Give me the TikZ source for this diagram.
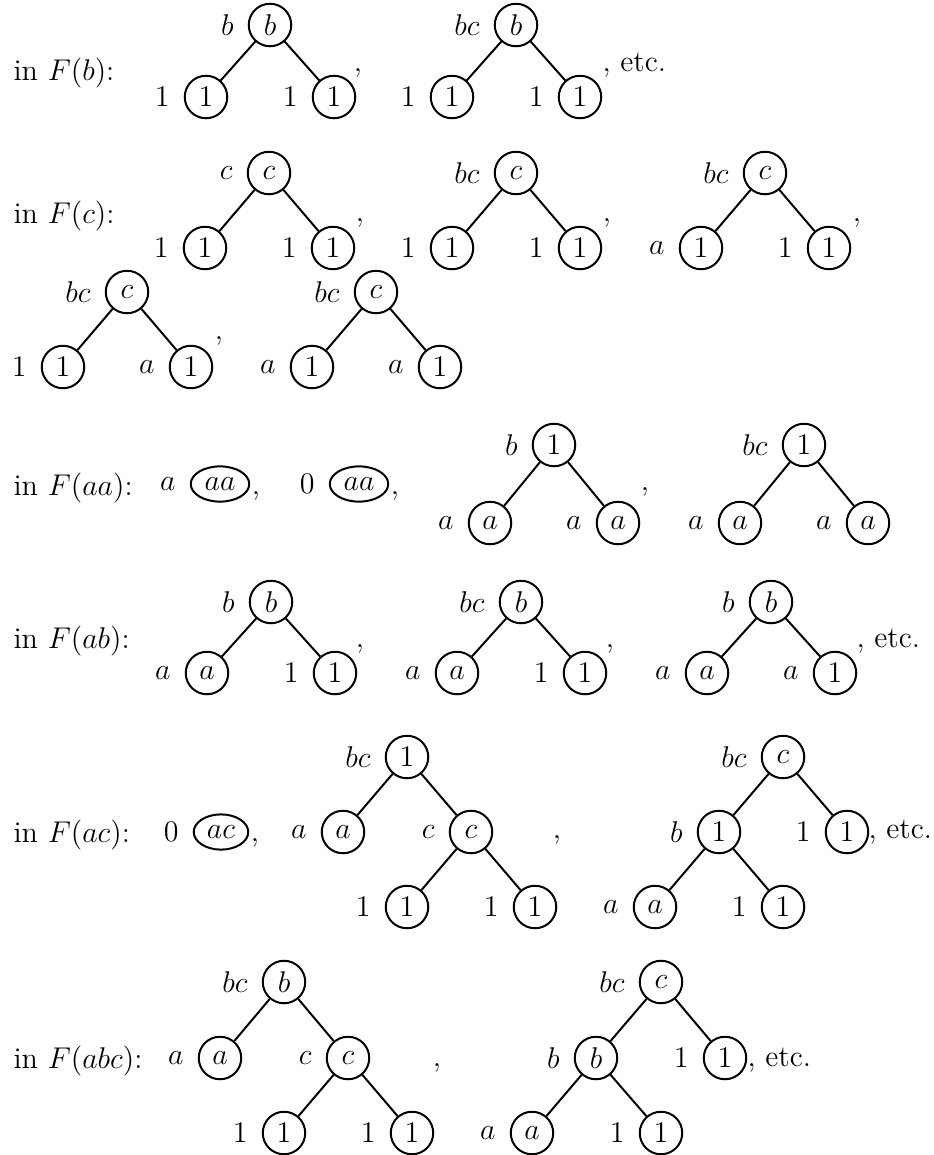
\documentclass[12pt,tikz,border=0pt]{standalone}
\usetikzlibrary{shapes.geometric}

\tikzset{
	vtx/.style={draw, circle, thick, minimum size=17pt, inner sep=2pt},
	oval/.style={draw, ellipse, thick, inner xsep=2.1pt, inner ysep=2.4pt},
	br/.style={thick},
	txt/.style={anchor=base west, inner sep=0pt},
	cma/.style={anchor=base, inner sep=0pt},
}

\begin{document}
\begin{tikzpicture}[x=0.4pt, y=-0.4pt, label distance=1.5pt]
	\useasboundingbox (0,0) rectangle (934,1155);

	% F(b)
	\node[txt] (hb) at (13,80) {in $F(b)$:};
	\begin{scope}[shift={(270,25)}]
		\node[vtx, label=left:$b$] (t11) at (0,0) {$b$};
		\node[vtx, label=left:$1$] (t11l) at (-64,72) {$1$};
		\node[vtx, label=left:$1$] (t11r) at (64,72) {$1$};
		\draw[br] (t11) -- (t11l) (t11) -- (t11r);
		\node[cma] (k11) at (88,46) {,};
	\end{scope}
	\begin{scope}[shift={(516,25)}]
		\node[vtx, label=left:$bc$] (t12) at (0,0) {$b$};
		\node[vtx, label=left:$1$] (t12l) at (-64,72) {$1$};
		\node[vtx, label=left:$1$] (t12r) at (64,72) {$1$};
		\draw[br] (t12) -- (t12l) (t12) -- (t12r);
		\node[txt] (k12) at (86,46) {, etc.};
	\end{scope}

	% F(c)
	\node[txt] (hc) at (13,223) {in $F(c)$:};
	\begin{scope}[shift={(269,173)}]
		\node[vtx, label=left:$c$] (t21) at (0,0) {$c$};
		\node[vtx, label=left:$1$] (t21l) at (-64,75) {$1$};
		\node[vtx, label=left:$1$] (t21r) at (64,75) {$1$};
		\draw[br] (t21) -- (t21l) (t21) -- (t21r);
		\node[cma] (k21) at (91,48) {,};
	\end{scope}
	\begin{scope}[shift={(516,173)}]
		\node[vtx, label=left:$bc$] (t22) at (0,0) {$c$};
		\node[vtx, label=left:$1$] (t22l) at (-64,75) {$1$};
		\node[vtx, label=left:$1$] (t22r) at (64,75) {$1$};
		\draw[br] (t22) -- (t22l) (t22) -- (t22r);
		\node[cma] (k22) at (91,48) {,};
	\end{scope}
	\begin{scope}[shift={(765,173)}]
		\node[vtx, label=left:$bc$] (t23) at (0,0) {$c$};
		\node[vtx, label=left:$a$] (t23l) at (-64,75) {$1$};
		\node[vtx, label=left:$1$] (t23r) at (64,75) {$1$};
		\draw[br] (t23) -- (t23l) (t23) -- (t23r);
		\node[cma] (k23) at (92,48) {,};
	\end{scope}
	\begin{scope}[shift={(127,292)}]
		\node[vtx, label=left:$bc$] (t24) at (0,0) {$c$};
		\node[vtx, label=left:$1$] (t24l) at (-64,75) {$1$};
		\node[vtx, label=left:$a$] (t24r) at (64,75) {$1$};
		\draw[br] (t24) -- (t24l) (t24) -- (t24r);
		\node[cma] (k24) at (92,47) {,};
	\end{scope}
	\begin{scope}[shift={(376,292)}]
		\node[vtx, label=left:$bc$] (t25) at (0,0) {$c$};
		\node[vtx, label=left:$a$] (t25l) at (-64,75) {$1$};
		\node[vtx, label=left:$a$] (t25r) at (64,75) {$1$};
		\draw[br] (t25) -- (t25l) (t25) -- (t25r);
	\end{scope}

	% F(aa)
	\node[txt] (haa) at (13,495) {in $F(aa)$:};
	\node[oval, label=left:$a$] (e41) at (220,484) {$aa$};
	\node[cma] (k41) at (256,494) {,};
	\node[oval, label=left:$0$] (e42) at (359,484) {$aa$};
	\node[cma] (k42) at (395,494) {,};
	\begin{scope}[shift={(554,445)}]
		\node[vtx, label=left:$b$] (t41) at (0,0) {$1$};
		\node[vtx, label=left:$a$] (t41l) at (-64,78) {$a$};
		\node[vtx, label=left:$a$] (t41r) at (64,78) {$a$};
		\draw[br] (t41) -- (t41l) (t41) -- (t41r);
		\node[cma] (k43) at (91,45) {,};
	\end{scope}
	\begin{scope}[shift={(804,445)}]
		\node[vtx, label=left:$bc$] (t42) at (0,0) {$1$};
		\node[vtx, label=left:$a$] (t42l) at (-64,78) {$a$};
		\node[vtx, label=left:$a$] (t42r) at (64,78) {$a$};
		\draw[br] (t42) -- (t42l) (t42) -- (t42r);
	\end{scope}

	% F(ab)
	\node[txt] (hab) at (13,648) {in $F(ab)$:};
	\begin{scope}[shift={(271,602)}]
		\node[vtx, label=left:$b$] (t51) at (0,0) {$b$};
		\node[vtx, label=left:$a$] (t51l) at (-64,71) {$a$};
		\node[vtx, label=left:$1$] (t51r) at (64,71) {$1$};
		\draw[br] (t51) -- (t51l) (t51) -- (t51r);
		\node[cma] (k51) at (89,45) {,};
	\end{scope}
	\begin{scope}[shift={(521,602)}]
		\node[vtx, label=left:$bc$] (t52) at (0,0) {$b$};
		\node[vtx, label=left:$a$] (t52l) at (-64,71) {$a$};
		\node[vtx, label=left:$1$] (t52r) at (64,71) {$1$};
		\draw[br] (t52) -- (t52l) (t52) -- (t52r);
		\node[cma] (k52) at (89,45) {,};
	\end{scope}
	\begin{scope}[shift={(771,602)}]
		\node[vtx, label=left:$b$] (t53) at (0,0) {$b$};
		\node[vtx, label=left:$a$] (t53l) at (-64,71) {$a$};
		\node[vtx, label=left:$a$] (t53r) at (64,71) {$1$};
		\draw[br] (t53) -- (t53l) (t53) -- (t53r);
		\node[txt] (k53) at (85,45) {, etc.};
	\end{scope}

	% F(ac)
	\node[txt] (hac) at (13,842) {in $F(ac)$:};
	\node[oval, label=left:$0$] (e61) at (221,832) {$ac$};
	\node[cma] (k61) at (255,841) {,};
	\begin{scope}[shift={(407,757)}]
		\node[vtx, label=left:$bc$] (t61) at (0,0) {$1$};
		\node[vtx, label=left:$a$] (t61l) at (-64,75) {$a$};
		\node[vtx, label=left:$c$] (t61r) at (64,75) {$c$};
		\node[vtx, label=left:$1$] (t61rl) at (0,150) {$1$};
		\node[vtx, label=left:$1$] (t61rr) at (128,150) {$1$};
		\draw[br] (t61) -- (t61l) (t61) -- (t61r);
		\draw[br] (t61r) -- (t61rl) (t61r) -- (t61rr);
		\node[cma] (k62) at (150,81) {,};
	\end{scope}
	\begin{scope}[shift={(783,757)}]
		\node[vtx, label=left:$bc$] (t62) at (0,0) {$c$};
		\node[vtx, label=left:$b$] (t62l) at (-64,75) {$1$};
		\node[vtx, label=left:$1$] (t62r) at (64,75) {$1$};
		\node[vtx, label=left:$a$] (t62ll) at (-128,150) {$a$};
		\node[vtx, label=left:$1$] (t62lr) at (0,150) {$1$};
		\draw[br] (t62) -- (t62l) (t62) -- (t62r);
		\draw[br] (t62l) -- (t62ll) (t62l) -- (t62lr);
		\node[txt] (k63) at (85,81) {, etc.};
	\end{scope}

	% F(abc)
	\node[txt] (habc) at (13,1068) {in $F(abc)$:};
	\begin{scope}[shift={(284,982)}]
		\node[vtx, label=left:$bc$] (t71) at (0,0) {$b$};
		\node[vtx, label=left:$a$] (t71l) at (-64,76) {$a$};
		\node[vtx, label=left:$c$] (t71r) at (64,76) {$c$};
		\node[vtx, label=left:$1$] (t71rl) at (0,151) {$1$};
		\node[vtx, label=left:$1$] (t71rr) at (128,151) {$1$};
		\draw[br] (t71) -- (t71l) (t71) -- (t71r);
		\draw[br] (t71r) -- (t71rl) (t71r) -- (t71rr);
		\node[cma] (k71) at (153,84) {,};
	\end{scope}
	\begin{scope}[shift={(661,982)}]
		\node[vtx, label=left:$bc$] (t72) at (0,0) {$c$};
		\node[vtx, label=left:$b$] (t72l) at (-65,76) {$b$};
		\node[vtx, label=left:$1$] (t72r) at (64,76) {$1$};
		\node[vtx, label=left:$a$] (t72ll) at (-129,151) {$a$};
		\node[vtx, label=left:$1$] (t72lr) at (0,151) {$1$};
		\draw[br] (t72) -- (t72l) (t72) -- (t72r);
		\draw[br] (t72l) -- (t72ll) (t72l) -- (t72lr);
		\node[txt] (k72) at (86,84) {, etc.};
	\end{scope}
\end{tikzpicture}
\end{document}
